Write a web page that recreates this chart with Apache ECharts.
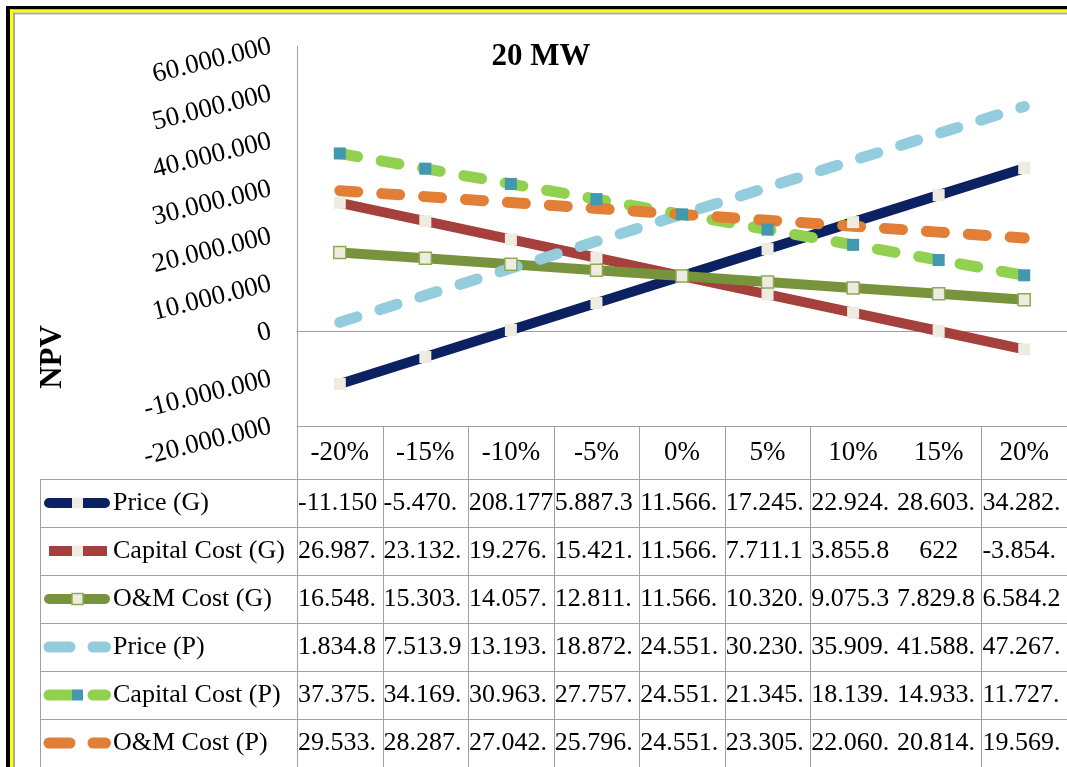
<!DOCTYPE html>
<html>
<head>
<meta charset="utf-8">
<title>20 MW NPV sensitivity</title>
<script src="https://cdn.jsdelivr.net/npm/echarts@6/dist/echarts.min.js"></script>
<style>
  html, body { margin: 0; padding: 0; background: #ffffff; overflow: hidden; }
  #chart { width: 1067px; height: 767px; }
</style>
</head>
<body>
<div id="chart"></div>
<script>
// Sensitivity steps on the x axis
const categories = ['-20%', '-15%', '-10%', '-5%', '0%', '5%', '10%', '15%', '20%'];

// NPV per scenario (G and P cases)
const priceG    = [-11150083, -5470953, 208177, 5887307, 11566437, 17245567, 22924697, 28603827, 34282957];
const capitalG  = [26987525, 23132253, 19276981, 15421709, 11566437, 7711165, 3855893, 622, -3854650];
const omG       = [16548600, 15303050, 14057500, 12811950, 11566437, 10320900, 9075350, 7829800, 6584250];
const priceP    = [1834830, 7513960, 13193090, 18872220, 24551350, 30230480, 35909610, 41588740, 47267870];
const capitalP  = [37375340, 34169345, 30963348, 27757349, 24551350, 21345351, 18139352, 14933355, 11727360];
const omP       = [29533550, 28287950, 27042450, 25796900, 24551350, 23305800, 22060300, 20814750, 19569200];

// Y axis ticks
const yMin = -20000000, yMax = 60000000, yStep = 10000000;

const SERIF = "'Liberation Serif', 'Times New Roman', serif";
const GRID_LINE = '#A0A0A0';
const BEIGE = '#EEECE1';
const DASH = [18, 24];

const defs = [
  { name: 'Price (G)',        data: priceG,   color: '#0C2161', marker: BEIGE,     border: null,      dashed: false, cap: 'round' },
  { name: 'Capital Cost (G)', data: capitalG, color: '#A5403D', marker: BEIGE,     border: null,      dashed: false, cap: 'butt'  },
  { name: 'O&M Cost (G)',     data: omG,      color: '#77933C', marker: BEIGE,     border: '#8DAA55', dashed: false, cap: 'round' },
  { name: 'Price (P)',        data: priceP,   color: '#93CDDD', marker: null,      border: null,      dashed: true,  cap: 'round' },
  { name: 'Capital Cost (P)', data: capitalP, color: '#92D050', marker: '#4198AF', border: null,      dashed: true,  cap: 'round' },
  { name: 'O&M Cost (P)',     data: omP,      color: '#E07F35', marker: null,      border: null,      dashed: true,  cap: 'round' }
];

const fmt = v => {
  const s = Math.abs(Math.round(v)).toString().replace(/\B(?=(\d{3})+(?!\d))/g, '.');
  return (v < 0 ? '-' : '') + s;
};

const chart = echarts.init(document.getElementById('chart'), null, { renderer: 'canvas' });

const series = defs.map(d => ({
  name: d.name,
  type: 'line',
  data: d.data,
  xAxisIndex: 0,
  yAxisIndex: 0,
  symbol: d.marker ? 'rect' : 'none',
  symbolSize: 12,
  showSymbol: !!d.marker,
  itemStyle: d.marker ? {
    color: d.marker,
    borderColor: d.border || d.marker,
    borderWidth: d.border ? 1.5 : 0
  } : undefined,
  lineStyle: {
    color: d.color,
    width: d.dashed ? 11 : 10,
    type: d.dashed ? DASH : 'solid',
    cap: d.cap,
    join: 'round'
  },
  emphasis: { disabled: true },
  silent: true,
  animation: false
}));

chart.setOption({
  animation: false,
  grid: { left: 297, top: 46, width: 774, height: 380, containLabel: false },
  xAxis: [
    {
      type: 'category',
      data: categories,
      boundaryGap: true,
      axisLine: { show: true, onZero: false, lineStyle: { color: GRID_LINE, width: 1 } },
      axisTick: { show: false },
      splitLine: { show: false },
      axisLabel: {
        interval: 0,
        margin: 13,
        fontFamily: SERIF,
        fontSize: 27,
        lineHeight: 27,
        color: '#000'
      }
    },
    {
      // baseline at NPV = 0
      type: 'category',
      data: categories,
      position: 'bottom',
      axisLine: { show: true, onZero: true, onZeroAxisIndex: 0, lineStyle: { color: GRID_LINE, width: 1 } },
      axisTick: { show: false },
      axisLabel: { show: false },
      splitLine: { show: false }
    }
  ],
  yAxis: {
    type: 'value',
    min: yMin,
    max: yMax,
    interval: yStep,
    axisLine: { show: true, lineStyle: { color: GRID_LINE, width: 1 } },
    axisTick: { show: false },
    splitLine: { show: false },
    axisLabel: {
      rotate: 14,
      margin: 26,
      fontFamily: SERIF,
      fontSize: 27,
      color: '#000',
      formatter: v => fmt(v)
    }
  },
  series: series
});

// ---- data table under the plot ----
const ctx = document.createElement('canvas').getContext('2d');
const CELL_FONT = 26;
ctx.font = CELL_FONT + 'px ' + SERIF;

function fitCell(s, w) {
  if (ctx.measureText(s).width <= w) return { text: s, fits: true };
  let t = s;
  while (t.length && ctx.measureText(t).width > w) t = t.slice(0, -1);
  return { text: t, fits: false };
}

const centers = categories.map((c, i) => chart.convertToPixel({ xAxisIndex: 0 }, i));
const colW = centers[1] - centers[0];
const plotLeft = centers[0] - colW / 2;
const plotRight = centers[centers.length - 1] + colW / 2;
const tableTop = chart.convertToPixel({ yAxisIndex: 0 }, yMin);
const headerH = 53;
const rowH = 48;
const firstRow = tableTop + headerH;
const legendLeft = 40;
const bottom = 800;

const g = [];

// frame around the chart
g.push({ type: 'rect', shape: { x: 6, y: 6, width: 4, height: 900 }, style: { fill: '#000' }, z: 100 });
g.push({ type: 'rect', shape: { x: 6, y: 6, width: 1200, height: 3.5 }, style: { fill: '#000' }, z: 100 });
g.push({ type: 'rect', shape: { x: 10, y: 9.5, width: 3, height: 900 }, style: { fill: '#FFFF00' }, z: 100 });
g.push({ type: 'rect', shape: { x: 10, y: 9.5, width: 1200, height: 3 }, style: { fill: '#FFFF00' }, z: 100 });
g.push({ type: 'rect', shape: { x: 13, y: 12.5, width: 2, height: 900 }, style: { fill: '#ABABAB' }, z: 100 });
g.push({ type: 'rect', shape: { x: 13, y: 12.5, width: 1200, height: 2 }, style: { fill: '#ABABAB' }, z: 100 });

// chart title
g.push({
  type: 'text', x: 541, y: 57,
  style: { text: '20 MW', fontFamily: SERIF, fontSize: 31, fontWeight: 'bold', fill: '#000', align: 'center', verticalAlign: 'middle' }
});

// axis title
g.push({
  type: 'text', x: 53, y: 357, rotation: Math.PI / 2,
  style: { text: 'NPV', fontFamily: SERIF, fontSize: 31, fontWeight: 'bold', fill: '#000', align: 'center', verticalAlign: 'middle' }
});

const hline = (x1, x2, y) => ({
  type: 'line', silent: true,
  shape: { x1: x1, y1: Math.round(y) + 0.5, x2: x2, y2: Math.round(y) + 0.5 },
  style: { stroke: GRID_LINE, lineWidth: 1 }
});
const vline = (x, y1, y2) => ({
  type: 'line', silent: true,
  shape: { x1: Math.round(x) + 0.5, y1: y1, x2: Math.round(x) + 0.5, y2: y2 },
  style: { stroke: GRID_LINE, lineWidth: 1 }
});

// horizontal rules of the table
for (let k = 0; k <= defs.length; k++) g.push(hline(legendLeft, plotRight + 10, firstRow + k * rowH));
// vertical rules: legend column and data columns (no rule between 10% and 15%)
g.push(vline(legendLeft, firstRow, bottom));
for (let i = 0; i <= categories.length; i++) {
  if (i === 7) continue;
  g.push(vline(plotLeft + i * colW, tableTop, bottom));
}

defs.forEach((d, k) => {
  const top = firstRow + k * rowH;
  const cy = top + rowH / 2;

  // legend key
  if (d.dashed) {
    g.push({
      type: 'line', silent: true,
      shape: { x1: 49, y1: cy, x2: 105.5, y2: cy },
      style: { stroke: d.color, lineWidth: 11, lineCap: 'round', lineDash: [21, 23] }
    });
  } else {
    const round = d.cap === 'round';
    g.push({
      type: 'line', silent: true,
      shape: { x1: 49, y1: cy, x2: round ? 105 : 107, y2: cy },
      style: { stroke: d.color, lineWidth: 10, lineCap: round ? 'round' : 'butt' }
    });
  }
  if (d.marker) {
    g.push({
      type: 'rect', silent: true,
      shape: { x: 72, y: cy - 5.5, width: 11, height: 11 },
      style: { fill: d.marker, stroke: d.border || null, lineWidth: d.border ? 1.5 : 0 }
    });
  }
  g.push({
    type: 'text', x: 113, y: cy,
    style: { text: d.name, fontFamily: SERIF, fontSize: CELL_FONT, fill: '#000', align: 'left', verticalAlign: 'middle' }
  });

  // values
  d.data.forEach((v, i) => {
    const cell = fitCell(fmt(v), colW - 1);
    const left = plotLeft + i * colW;
    g.push({
      type: 'text',
      x: cell.fits ? centers[i] : left + 1,
      y: cy,
      style: {
        text: cell.text, fontFamily: SERIF, fontSize: CELL_FONT, fill: '#000',
        align: cell.fits ? 'center' : 'left', verticalAlign: 'middle'
      }
    });
  });
});

chart.setOption({ graphic: { elements: g } });
</script>
</body>
</html>
